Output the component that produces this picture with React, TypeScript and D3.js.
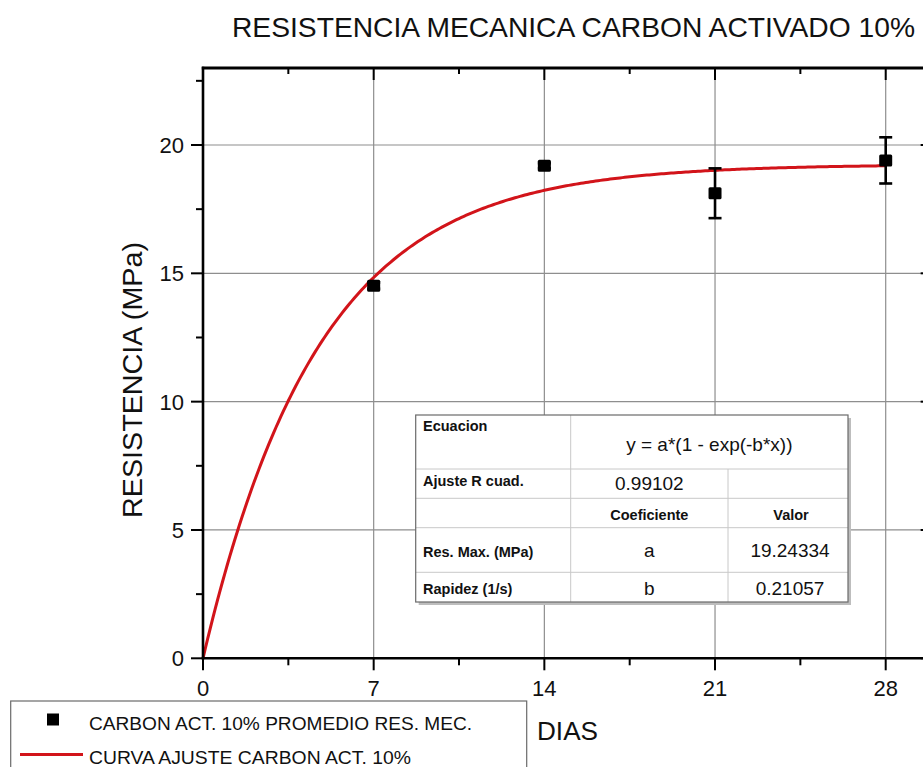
import React from "react";
import * as d3 from "d3";

const title = "RESISTENCIA MECANICA CARBON ACTIVADO 10%";
const xTitle = "DIAS";
const yTitle = "RESISTENCIA (MPa)";

const days = [7, 14, 21, 28];
const strength = [14.52, 19.19, 18.12, 19.4];
const errors = [0.12, 0.1, 0.97, 0.9];

const fitA = 19.24334;
const fitB = 0.21057;
const fitR2 = "0.99102";

const xTicks = [0, 7, 14, 21, 28];
const xMinor = [3.5, 10.5, 17.5, 24.5];
const yTicks = [0, 5, 10, 15, 20];
const yMinor = [2.5, 7.5, 12.5, 17.5, 22.5];

const legendLabels = ["CARBON ACT. 10% PROMEDIO RES. MEC.", "CURVA AJUSTE CARBON ACT. 10%"];

const FONT = "'Liberation Sans', Arial, Helvetica, sans-serif";

export default function App() {
  const W = 923, H = 767;
  const xMax = 29.7;
  const x = d3.scaleLinear().domain([0, 28]).range([203, 885.7]);
  const y = d3.scaleLinear().domain([0, 23]).range([658.3, 68]);
  const x0 = x(0), x1 = x(xMax), y0 = y(0), y1 = y(23);

  const fitXs = d3.range(0, 28.0001, 0.1);
  const fitLine = d3
    .line<number>()
    .x((d) => x(d))
    .y((d) => y(fitA * (1 - Math.exp(-fitB * d))))
    .curve(d3.curveLinear)(fitXs) as string;

  const grid = "#8e8e8e";
  const red = "#d2141a";

  // table geometry
  const tL = 415.7, tR = 848, tT = 415, tB = 602;
  const c1 = 570.7, c2 = 728;
  const r1 = 469, r2 = 498.3, r3 = 527.7, r4 = 572.3;
  const c2mid = (c1 + c2) / 2, c3mid = (c2 + tR) / 2;
  const inner = "#c8c8c8";

  return (
    <svg width={W} height={H} style={{ position: "absolute", left: 0, top: 0, background: "#fff" }} fontFamily={FONT}>
      <rect x={0} y={0} width={W} height={H} fill="#fff" />
      {/* title */}
      <text x={232} y={37} fontSize={28} textLength={683} lengthAdjust="spacingAndGlyphs" fill="#111">
        {title}
      </text>

      {/* grid */}
      {xTicks.slice(1).map((t) => (
        <line key={"gx" + t} x1={x(t)} x2={x(t)} y1={y1} y2={y0} stroke={grid} strokeWidth={1.2} />
      ))}
      {yTicks.slice(1).map((t) => (
        <line key={"gy" + t} x1={x0} x2={x1} y1={y(t)} y2={y(t)} stroke={grid} strokeWidth={1.2} />
      ))}

      {/* table */}
      <g>
        <rect x={tL + 3} y={tT + 3} width={tR - tL} height={tB - tT} fill="#bdbdbd" />
        <rect x={tL} y={tT} width={tR - tL} height={tB - tT} fill="#fff" />
        <line x1={c1} x2={c1} y1={tT} y2={tB} stroke={inner} />
        <line x1={c2} x2={c2} y1={r1} y2={tB} stroke={inner} />
        {[r1, r2, r3, r4].map((r) => (
          <line key={"r" + r} x1={tL} x2={tR} y1={r} y2={r} stroke={inner} />
        ))}
        <rect x={tL} y={tT} width={tR - tL} height={tB - tT} fill="none" stroke="#6a6a6a" strokeWidth={1.2} />
        <g fontWeight="bold" fontSize={14.5} fill="#111">
          <text x={423} y={431}>Ecuacion</text>
          <text x={423} y={486}>Ajuste R cuad.</text>
          <text x={c2mid} y={519.5} textAnchor="middle">Coeficiente</text>
          <text x={c3mid + 3} y={519.5} textAnchor="middle">Valor</text>
          <text x={423} y={556.5}>Res. Max. (MPa)</text>
          <text x={423} y={594}>Rapidez (1/s)</text>
        </g>
        <g fontSize={19} fill="#111">
          <text x={(c1 + tR) / 2} y={451} textAnchor="middle">y = a*(1 - exp(-b*x))</text>
          <text x={c2mid} y={490} textAnchor="middle">{fitR2}</text>
          <text x={c2mid} y={557} textAnchor="middle">a</text>
          <text x={c3mid + 2} y={557} textAnchor="middle">{fitA.toFixed(5)}</text>
          <text x={c2mid} y={594.5} textAnchor="middle">b</text>
          <text x={c3mid + 2} y={594.5} textAnchor="middle">{fitB.toFixed(5)}</text>
        </g>
      </g>

      {/* fit curve */}
      <path d={fitLine} fill="none" stroke={red} strokeWidth={3} />

      {/* error bars and points */}
      {days.map((d, i) => {
        const cx = x(d);
        const top = y(strength[i] + errors[i]);
        const bot = y(strength[i] - errors[i]);
        return (
          <g key={"p" + d}>
            <line x1={cx} x2={cx} y1={top} y2={bot} stroke="#000" strokeWidth={2.6} />
            <line x1={cx - 6.5} x2={cx + 6.5} y1={top} y2={top} stroke="#000" strokeWidth={2.6} />
            <line x1={cx - 6.5} x2={cx + 6.5} y1={bot} y2={bot} stroke="#000" strokeWidth={2.6} />
            <rect x={cx - 6.5} y={y(strength[i]) - 6} width={13} height={12} fill="#000" rx={1.5} />
          </g>
        );
      })}

      {/* axes lines */}
      <line x1={x0} x2={x0} y1={y1 - 1.2} y2={y0 + 1.2} stroke="#000" strokeWidth={2.6} />
      <line x1={x0 - 1.2} x2={x1} y1={y0} y2={y0} stroke="#000" strokeWidth={2.6} />
      <line x1={x0 - 1.2} x2={x1} y1={y1} y2={y1} stroke="#000" strokeWidth={3} />
      <line x1={x1} x2={x1} y1={y1} y2={y0} stroke="#000" strokeWidth={2.6} />

      {/* left ticks (outward) */}
      {yTicks.map((t) => (
        <line key={"ly" + t} x1={x0 - 12} x2={x0} y1={y(t)} y2={y(t)} stroke="#000" strokeWidth={2} />
      ))}
      {yMinor.map((t) => (
        <line key={"lym" + t} x1={x0 - 7} x2={x0} y1={y(t)} y2={y(t)} stroke="#000" strokeWidth={2} />
      ))}
      {/* right ticks (inward) */}
      {yTicks.map((t) => (
        <line key={"ry" + t} x1={x1 - 6.5} x2={x1} y1={y(t)} y2={y(t)} stroke="#000" strokeWidth={2} />
      ))}
      {yMinor.map((t) => (
        <line key={"rym" + t} x1={x1 - 3.5} x2={x1} y1={y(t)} y2={y(t)} stroke="#000" strokeWidth={2} />
      ))}
      {/* bottom ticks (outward) */}
      {xTicks.map((t) => (
        <line key={"bx" + t} x1={x(t)} x2={x(t)} y1={y0} y2={y0 + 12} stroke="#000" strokeWidth={2} />
      ))}
      {xMinor.map((t) => (
        <line key={"bxm" + t} x1={x(t)} x2={x(t)} y1={y0} y2={y0 + 7} stroke="#000" strokeWidth={2} />
      ))}
      {/* top ticks (inward) */}
      {xTicks.map((t) => (
        <line key={"tx" + t} x1={x(t)} x2={x(t)} y1={y1} y2={y1 + 12} stroke="#000" strokeWidth={2} />
      ))}
      {xMinor.map((t) => (
        <line key={"txm" + t} x1={x(t)} x2={x(t)} y1={y1} y2={y1 + 6} stroke="#000" strokeWidth={2} />
      ))}

      {/* tick labels */}
      <g fontSize={22} fill="#111">
        {yTicks.map((t) => (
          <text key={"yl" + t} x={184} y={y(t)} dy="0.36em" textAnchor="end">
            {t}
          </text>
        ))}
        {xTicks.map((t) => (
          <text key={"xl" + t} x={x(t)} y={696} textAnchor="middle">
            {t}
          </text>
        ))}
      </g>

      {/* axis titles */}
      <text
        transform={`translate(141.5, 380) rotate(-90)`}
        textAnchor="middle"
        fontSize={28}
        textLength={276}
        lengthAdjust="spacingAndGlyphs"
        fill="#111"
      >
        {yTitle}
      </text>
      <text x={537} y={740} fontSize={26} textLength={61} lengthAdjust="spacingAndGlyphs" fill="#111">
        {xTitle}
      </text>

      {/* legend */}
      <rect x={10.7} y={701} width={516} height={90} fill="#fff" stroke="#6a6a6a" strokeWidth={1.2} />
      <rect x={47} y={713.5} width={12} height={12} fill="#000" />
      <text x={89} y={729.5} fontSize={19} textLength={383} lengthAdjust="spacingAndGlyphs" fill="#111">
        {legendLabels[0]}
      </text>
      <line x1={20} x2={83} y1={754.5} y2={754.5} stroke={red} strokeWidth={3} />
      <text x={89} y={763.5} fontSize={19} textLength={322} lengthAdjust="spacingAndGlyphs" fill="#111">
        {legendLabels[1]}
      </text>
    </svg>
  );
}
